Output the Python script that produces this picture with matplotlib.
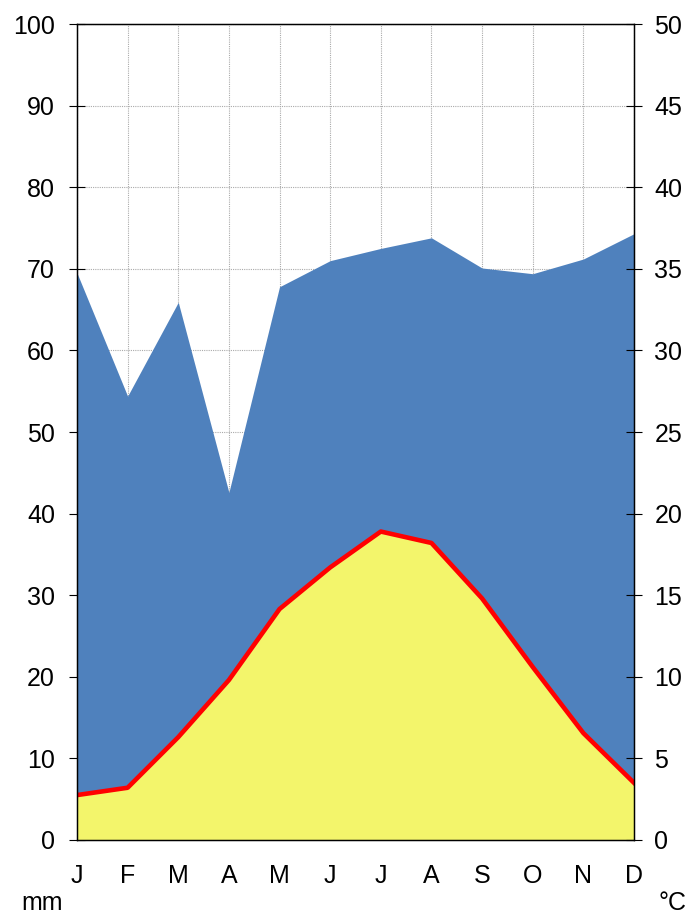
import numpy as np
import matplotlib.pyplot as plt

months = ["J", "F", "M", "A", "M", "J", "J", "A", "S", "O", "N", "D"]
precip_mm = [69.5, 54.4, 65.9, 42.6, 67.8, 71.0, 72.5, 73.8, 70.1, 69.4, 71.2, 74.3]
temp_c = [2.75, 3.2, 6.3, 9.8, 14.15, 16.7, 18.9, 18.2, 14.8, 10.6, 6.55, 3.5]

plt.rcParams['font.family'] = ['Liberation Sans', 'DejaVu Sans']

fig = plt.figure(figsize=(6.91, 9.14), dpi=100)
ax = fig.add_axes([0.1114, 0.081, 0.8061, 0.8927])
x = np.arange(len(months))

ax.fill_between(x, 0, precip_mm, color="#4F81BD", lw=0, zorder=2)
temp_mm = np.array(temp_c) * 2
ax.fill_between(x, 0, temp_mm, color="#F3F56B", lw=0, zorder=3)
ax.plot(x, temp_mm, color="#FF0000", lw=3.3, zorder=4)

ax.set_xlim(0, 11)
ax.set_ylim(0, 100)
ax.set_xticks(x)
ax.set_xticklabels(months)
ax.set_yticks(np.arange(0, 101, 10))
ax.grid(True, color="#aaaaaa", linestyle=(0, (1, 1)), lw=0.8, zorder=0)
ax.set_axisbelow(True)
ax.tick_params(axis="x", length=0, pad=17, labelsize=18)
ax.tick_params(axis="y", direction="inout", length=11.5, pad=10, labelsize=18, width=0.8)
for s in ax.spines.values():
    s.set_linewidth(1.0)
    s.set_zorder(5)

ax2 = ax.twinx()
ax2.set_ylim(0, 50)
ax2.set_yticks(np.arange(0, 51, 5))
ax2.tick_params(axis="y", direction="inout", length=11.5, pad=9, labelsize=18, width=0.8)

fig.text(42 / 691, 1 - 903 / 914, "mm", fontsize=18, ha="center", va="center")
fig.text(673 / 691, 1 - 903 / 914, "°C", fontsize=18, ha="center", va="center")

fig.savefig("out.png", dpi=100)
